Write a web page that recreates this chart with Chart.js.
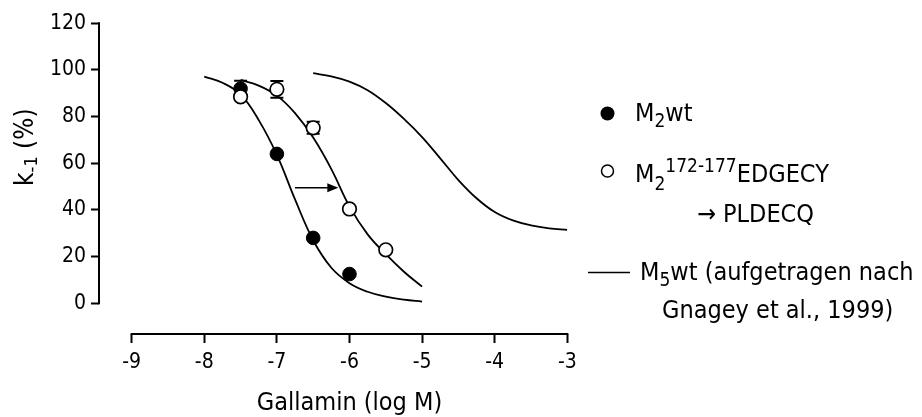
<!DOCTYPE html>
<html>
<head>
<meta charset="utf-8">
<script src="https://cdn.jsdelivr.net/npm/chart.js@4/dist/chart.umd.min.js"></script>
<style>
  html, body { margin: 0; padding: 0; background: #fff; }
  #wrap { width: 922px; height: 417px; }
</style>
</head>
<body>
<div id="wrap"><canvas id="c" width="922" height="417"></canvas></div>
<script>
// Gallamin concentration (log M) and dissociation rate k-1 (% of control)
const m2wtConc = [-7.5, -7, -6.5, -6];
const m2wtK    = [92, 64, 28, 12.5];
const m2wtErr  = [3.4, null, null, null];

const mutConc = [-7.5, -7, -6.5, -6, -5.5];
const mutK    = [88.5, 91.7, 75.2, 40.4, 22.9];
const mutErr  = [null, 3.6, 2.6, null, null];

// Fitted concentration-effect curves
const m2wtFitX = [-8, -7.75, -7.5, -7.25, -7, -6.75, -6.5, -6.25, -6, -5.75, -5.5, -5.25, -5];
const m2wtFitY = [97.1, 94.5, 89.5, 78.5, 63.6, 44.5, 27, 15.2, 8.6, 4.9, 2.8, 1.5, 0.7];

const mutFitX = [-7.5, -7.25, -7, -6.75, -6.5, -6.25, -6, -5.75, -5.5, -5.25, -5];
const mutFitY = [95.7, 93.3, 89, 81.5, 71, 57.5, 41.5, 29.5, 21, 13.5, 7.1];

const m5FitX = [-6.5, -6.25, -6, -5.75, -5.5, -5.25, -5, -4.75, -4.5, -4.25, -4, -3.75, -3.5, -3.25, -3];
const m5FitY = [98.6, 97.2, 95, 91.3, 85.8, 79, 71.2, 62.1, 52.8, 45, 39.1, 35.5, 33.4, 32.1, 31.4];

// Shift of the curve at half-maximal effect
const shiftX = [-6.75, -6.154];
const shiftY = 49.5;

// Axis ticks
const xTicks = [-9, -8, -7, -6, -5, -4, -3];
const yTicks = [0, 20, 40, 60, 80, 100, 120];

const FAMILY = '"DejaVu Sans Condensed", "DejaVu Sans", sans-serif';

const pts = (xs, ys) => xs.map((x, i) => ({ x, y: ys[i] }));

// Error bars, drawn under the markers
const errorBars = {
  id: 'errorBars',
  beforeDatasetsDraw(chart) {
    const { ctx, scales: { x, y } } = chart;
    const sets = [[m2wtConc, m2wtK, m2wtErr], [mutConc, mutK, mutErr]];
    ctx.save();
    ctx.strokeStyle = '#000';
    ctx.lineWidth = 2;
    for (const [cx, cy, ce] of sets) {
      cx.forEach((v, i) => {
        if (ce[i] == null) return;
        const px = x.getPixelForValue(v);
        const top = y.getPixelForValue(cy[i] + ce[i]);
        const bot = y.getPixelForValue(cy[i] - ce[i]);
        ctx.beginPath();
        ctx.moveTo(px, top); ctx.lineTo(px, bot);
        ctx.moveTo(px - 6.5, top); ctx.lineTo(px + 6.5, top);
        ctx.moveTo(px - 6.5, bot); ctx.lineTo(px + 6.5, bot);
        ctx.stroke();
      });
    }
    ctx.restore();
  }
};

// Text runs with sub- and superscripts
function rich(ctx, parts, x, y, size) {
  let cx = x;
  for (const p of parts) {
    const s = p.size || size;
    ctx.font = s + 'px ' + FAMILY;
    ctx.fillText(p.t, cx, y + (p.dy || 0));
    cx += ctx.measureText(p.t).width;
  }
}

// Axis lines, titles, shift arrow and legend
const decorations = {
  id: 'decorations',
  afterDraw(chart) {
    const { ctx, chartArea, scales: { x, y } } = chart;
    ctx.save();
    ctx.strokeStyle = '#000';
    ctx.fillStyle = '#000';

    // axis lines
    ctx.lineWidth = 2;
    ctx.beginPath();
    ctx.moveTo(chartArea.left, y.getPixelForValue(yTicks[0]) + 1);
    ctx.lineTo(chartArea.left, y.getPixelForValue(yTicks[yTicks.length - 1]) - 1);
    ctx.moveTo(x.getPixelForValue(xTicks[0]) - 1, chartArea.bottom);
    ctx.lineTo(x.getPixelForValue(xTicks[xTicks.length - 1]) + 1, chartArea.bottom);
    ctx.stroke();

    // shift arrow
    const ay = y.getPixelForValue(shiftY);
    const ax0 = x.getPixelForValue(shiftX[0]);
    const ax1 = x.getPixelForValue(shiftX[1]);
    ctx.lineWidth = 1.6;
    ctx.beginPath();
    ctx.moveTo(ax0, ay); ctx.lineTo(ax1 - 8, ay);
    ctx.stroke();
    ctx.beginPath();
    ctx.moveTo(ax1, ay); ctx.lineTo(ax1 - 11, ay - 4.5); ctx.lineTo(ax1 - 11, ay + 4.5);
    ctx.closePath(); ctx.fill();

    ctx.textBaseline = 'alphabetic';

    // x title
    ctx.font = '25px ' + FAMILY;
    ctx.textAlign = 'center';
    ctx.fillText('Gallamin (log M)',
      (x.getPixelForValue(xTicks[0]) + x.getPixelForValue(xTicks[xTicks.length - 1])) / 2, 410);
    ctx.textAlign = 'left';

    // y title
    ctx.save();
    ctx.translate(33, 186);
    ctx.rotate(-Math.PI / 2);
    rich(ctx, [{ t: 'k' }, { t: '-1', size: 18, dy: 4 }, { t: ' (%)' }], 0, 0, 26);
    ctx.restore();

    // legend
    ctx.beginPath();
    ctx.arc(607.5, 113.5, 7, 0, Math.PI * 2);
    ctx.fill();
    rich(ctx, [{ t: 'M' }, { t: '2', size: 19, dy: 6 }, { t: 'wt' }], 635, 121, 25);

    ctx.lineWidth = 1.5;
    ctx.beginPath();
    ctx.arc(607.5, 171, 6, 0, Math.PI * 2);
    ctx.stroke();
    rich(ctx, [{ t: 'M' }, { t: '2', size: 19, dy: 8 }, { t: '172-177', size: 19, dy: -10 }, { t: 'EDGECY' }], 635, 182, 25);
    rich(ctx, [{ t: '\u2192 PLDECQ' }], 697, 221.5, 25);

    ctx.lineWidth = 1.5;
    ctx.beginPath();
    ctx.moveTo(588, 272.5); ctx.lineTo(630, 272.5);
    ctx.stroke();
    rich(ctx, [{ t: 'M' }, { t: '5', size: 19, dy: 6 }, { t: 'wt (aufgetragen nach' }], 640, 280, 25);
    rich(ctx, [{ t: 'Gnagey et al., 1999)' }], 662, 317.5, 25);

    ctx.restore();
  }
};

const curve = (xs, ys) => ({
  type: 'line',
  data: pts(xs, ys),
  showLine: true,
  borderColor: '#000',
  borderWidth: 1.8,
  pointRadius: 0,
  fill: false,
  tension: 0.4
});

new Chart(document.getElementById('c'), {
  type: 'scatter',
  data: {
    datasets: [
      {
        label: 'M2 172-177 EDGECY -> PLDECQ',
        data: pts(mutConc, mutK),
        pointRadius: 6.8,
        pointBackgroundColor: '#fff',
        pointBorderColor: '#000',
        pointBorderWidth: 1.7,
        showLine: false
      },
      {
        label: 'M2wt',
        data: pts(m2wtConc, m2wtK),
        pointRadius: 6.8,
        pointBackgroundColor: '#000',
        pointBorderColor: '#000',
        pointBorderWidth: 1,
        showLine: false
      },
      curve(m2wtFitX, m2wtFitY),
      curve(mutFitX, mutFitY),
      curve(m5FitX, m5FitY)
    ]
  },
  options: {
    responsive: false,
    animation: false,
    events: [],
    layout: { padding: { left: 0, top: 23.3, right: 354.7, bottom: 0 } },
    plugins: { legend: { display: false }, tooltip: { enabled: false } },
    scales: {
      x: {
        type: 'linear',
        min: -9.45,
        max: xTicks[xTicks.length - 1],
        afterBuildTicks: s => { s.ticks = xTicks.map(v => ({ value: v })); },
        afterFit: s => { s.height = 83; },
        ticks: { color: '#000', padding: 7, font: { family: FAMILY, size: 21 } },
        grid: { drawOnChartArea: false, drawTicks: true, tickLength: 9, tickWidth: 2, tickColor: '#000' },
        border: { display: false }
      },
      y: {
        type: 'linear',
        min: -13.2,
        max: yTicks[yTicks.length - 1],
        afterBuildTicks: s => { s.ticks = yTicks.map(v => ({ value: v })); },
        afterFit: s => { s.width = 99; },
        ticks: { color: '#000', padding: 5, font: { family: FAMILY, size: 21 } },
        grid: { drawOnChartArea: false, drawTicks: true, tickLength: 8, tickWidth: 2, tickColor: '#000' },
        border: { display: false }
      }
    }
  },
  plugins: [errorBars, decorations]
});
</script>
</body>
</html>
